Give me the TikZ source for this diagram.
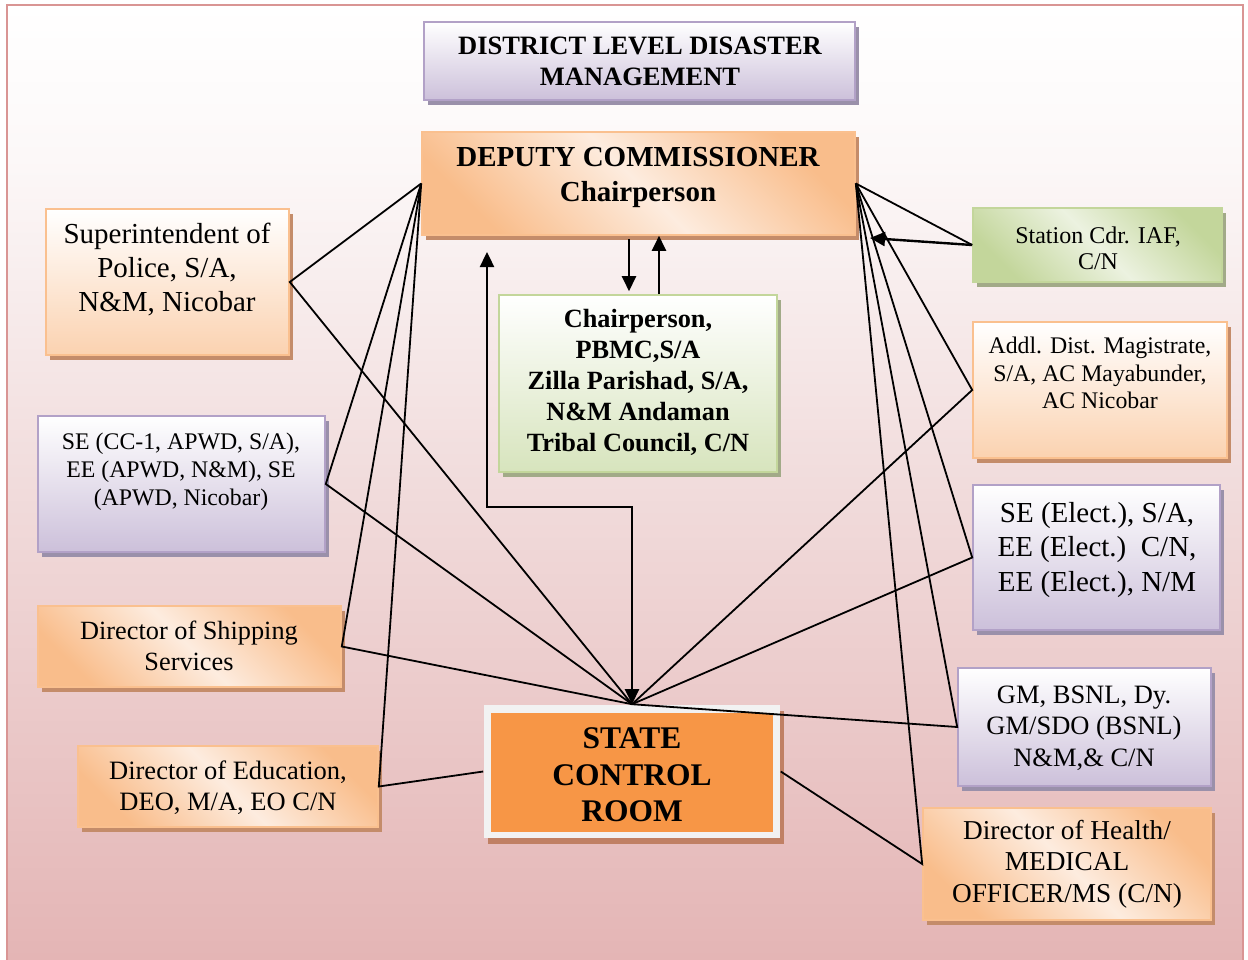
\documentclass[tikz,border=0pt]{standalone}
\usepackage{fontspec}
\setmainfont{Liberation Serif}
\usetikzlibrary{arrows.meta,shadows}

% page wash and frame
\definecolor{framepink}{RGB}{217,149,148}
\definecolor{bgpink}{RGB}{228,181,181}
\definecolor{bgmid}{RGB}{241,220,220}
\definecolor{bgpale}{RGB}{252,248,248}
% orange boxes
\definecolor{orline}{RGB}{250,192,143}
\definecolor{orpeach}{RGB}{249,189,139}
\definecolor{orsoft}{RGB}{251,210,176}
\definecolor{orlight}{RGB}{253,236,223}
\definecolor{orshd}{RGB}{196,140,106}
% purple boxes
\definecolor{puline}{RGB}{178,161,199}
\definecolor{pufill}{RGB}{204,192,218}
\definecolor{pushd}{RGB}{154,144,170}
% green boxes
\definecolor{grline}{RGB}{195,214,155}
\definecolor{grfill}{RGB}{215,228,189}
\definecolor{grlight}{RGB}{236,242,224}
\definecolor{grshd}{RGB}{162,170,136}
% control room
\definecolor{scrorange}{RGB}{247,150,70}
\definecolor{scrrim}{RGB}{242,242,242}
\definecolor{scrshd}{RGB}{192,128,100}

% the shaded path is fitted to the 25bp--75bp band of the shading
\pgfdeclareverticalshading{pagewash}{100bp}{color(0bp)=(bgpink); color(25bp)=(bgpink); color(50bp)=(bgmid); color(67bp)=(bgpale); color(75bp)=(white); color(100bp)=(white)}

\tikzset{
  box/.style={rectangle, line width=1.6pt, inner sep=0pt},
  orshadow/.style={drop shadow={shadow xshift=4pt, shadow yshift=-5pt, fill=orshd, opacity=1}},
  orv/.style={box, orshadow, draw=orline, top color=white, bottom color=orsoft},
  ord/.style={box, orshadow, draw=orline, left color=orpeach, right color=orpeach, middle color=orlight, shading angle=-45},
  puv/.style={box, draw=puline, top color=white, bottom color=pufill,
    drop shadow={shadow xshift=4pt, shadow yshift=-5pt, fill=pushd, opacity=1}},
  grv/.style={box, draw=grline, top color=white, bottom color=grfill,
    drop shadow={shadow xshift=4pt, shadow yshift=-5pt, fill=grshd, opacity=1}},
  grd/.style={box, draw=grline, left color=grline, right color=grline, middle color=grlight, shading angle=-45,
    drop shadow={shadow xshift=4pt, shadow yshift=-5pt, fill=grshd, opacity=1}},
  lbl/.style={align=center, inner sep=0pt, text=black},
  conn/.style={line width=1.8pt, black},
  arr/.style={line width=2.4pt, black, -{Triangle[length=15pt,width=14pt]}},
  arrboth/.style={line width=2.4pt, black, {Triangle[length=15pt,width=14pt]}-{Triangle[length=15pt,width=14pt]}}
}

\begin{document}
\begin{tikzpicture}[x=1pt,y=-1pt]
\useasboundingbox (0,0) rectangle (1248,959);
\fill[white] (0,0) rectangle (1248,959);
\shade[shading=pagewash] (7,5) rectangle (1243,959);
\draw[framepink, line width=2.6pt] (7,965) -- (7,5) -- (1243,5) -- (1243,965);

% ---- boxes ----
\node[puv, minimum width=431pt, minimum height=78pt]  (title)  at (639.5,61) {};
\node[ord, minimum width=433pt, minimum height=103pt] (dc)     at (638.5,183.5) {};
\node[orv, minimum width=243pt, minimum height=146pt] (sp)     at (167.5,282) {};
\node[puv, minimum width=287pt, minimum height=136pt] (seapwd) at (181.5,484) {};
\node[ord, minimum width=303pt, minimum height=81pt]  (ship)   at (189.5,646.5) {};
\node[ord, minimum width=300pt, minimum height=81pt]  (edu)    at (228,786.5) {};
\node[grv, minimum width=278pt, minimum height=177pt] (pbmc)   at (638,383.5) {};
\node[grd, minimum width=249pt, minimum height=74pt]  (iaf)    at (1097.5,245) {};
\node[orv, minimum width=254pt, minimum height=136pt] (adm)    at (1100,390) {};
\node[puv, minimum width=247pt, minimum height=145pt] (seel)   at (1096.5,557.5) {};
\node[puv, minimum width=253pt, minimum height=118pt] (gm)     at (1084.5,727) {};
\node[ord, minimum width=288pt, minimum height=112pt] (health) at (1067,864) {};
\node[box, fill=scrrim, minimum width=296pt, minimum height=133pt,
  drop shadow={shadow xshift=4pt, shadow yshift=-6pt, fill=scrshd, opacity=1}] (scr) at (632,771.5) {};
\node[box, fill=scrorange, minimum width=282pt, minimum height=119pt] (scrcore) at (632,772.5) {};

% ---- texts ----
\node[lbl, font=\bfseries\fontsize{26.5}{31}\selectfont] (title-t) at (640,61) {DISTRICT LEVEL DISASTER\\MANAGEMENT};
\node[lbl, font=\bfseries\fontsize{29}{35}\selectfont] (dc-t) at (638,177.5) {DEPUTY COMMISSIONER\\Chairperson};
\node[lbl, font=\fontsize{29}{34}\selectfont] (sp-t) at (167,270) {Superintendent of\\Police, S/A,\\N\&M, Nicobar};
\node[lbl, font=\fontsize{23.8}{28}\selectfont] (seapwd-t) at (181,472) {SE (CC-1, APWD, S/A),\\EE (APWD, N\&M), SE\\(APWD, Nicobar)};
\node[lbl, font=\fontsize{26.3}{31}\selectfont] (ship-t) at (189,645.5) {Director of Shipping\\Services};
\node[lbl, font=\fontsize{26.5}{31}\selectfont] (edu-t) at (228,788) {Director of Education,\\DEO, M/A, EO C/N};
\node[lbl, font=\bfseries\fontsize{31.5}{36.5}\selectfont] (scr-t) at (632,775) {STATE\\CONTROL\\ROOM};
\node[lbl, font=\bfseries\fontsize{26.3}{31}\selectfont] (pbmc-t) at (638,382) {Chairperson,\\PBMC,S/A\\Zilla Parishad, S/A,\\N\&M Andaman\\Tribal Council, C/N};
\node[lbl, font=\fontsize{24}{26}\selectfont] (iaf-t) at (1098,248) {Station Cdr. IAF,\\C/N};
\node[lbl, font=\fontsize{23.8}{27.5}\selectfont] (adm-t) at (1100,373) {Addl. Dist. Magistrate,\\S/A, AC Mayabunder,\\AC Nicobar};
\node[lbl, font=\fontsize{29}{34.5}\selectfont] (seel-t) at (1097,550) {SE (Elect.), S/A,\\EE (Elect.)\ \ C/N,\\EE (Elect.), N/M};
\node[lbl, font=\fontsize{26.5}{31.5}\selectfont] (gm-t) at (1084,728) {GM, BSNL, Dy.\\GM/SDO (BSNL)\\N\&M,\& C/N};
\node[lbl, font=\fontsize{27.3}{31.5}\selectfont] (health-t) at (1067,864) {Director of Health/\\MEDICAL\\OFFICER/MS (C/N)};

% ---- connectors: left fan ----
\draw[conn] (dc.west) -- (sp.east) -- (scr.north);
\draw[conn] (dc.west) -- (seapwd.east) -- (scr.north);
\draw[conn] (dc.west) -- (ship.east) -- (scr.north);
\draw[conn] (dc.west) -- (edu.east) -- (scr.west);

% ---- connectors: right fan ----
\draw[conn] (dc.east) -- (iaf.west);
\draw[conn] (dc.east) -- (adm.west) -- (scr.north);
\draw[conn] (dc.east) -- (seel.west) -- (scr.north);
\draw[conn] (dc.east) -- (gm.west) -- (scr.north);
\draw[conn] (dc.east) -- (health.west) -- (scr.east);

% ---- arrows ----
\coordinate (iaftip) at (870,238);
\draw[arr] (iaf.west) -- (iaftip);

\coordinate (downx) at (629,0);
\coordinate (upx) at (659,0);
\draw[arr, shorten <=3pt, shorten >=3pt] (dc.south -| downx) -- (pbmc.north -| downx);
\draw[arr] (pbmc.north -| upx) -- (dc.south -| upx);

\coordinate (fbtip) at (487,252);
\coordinate (fbknee) at (487,507);
\draw[arrboth] (fbtip) -- (fbknee) -| (scr.north);
\end{tikzpicture}
\end{document}
